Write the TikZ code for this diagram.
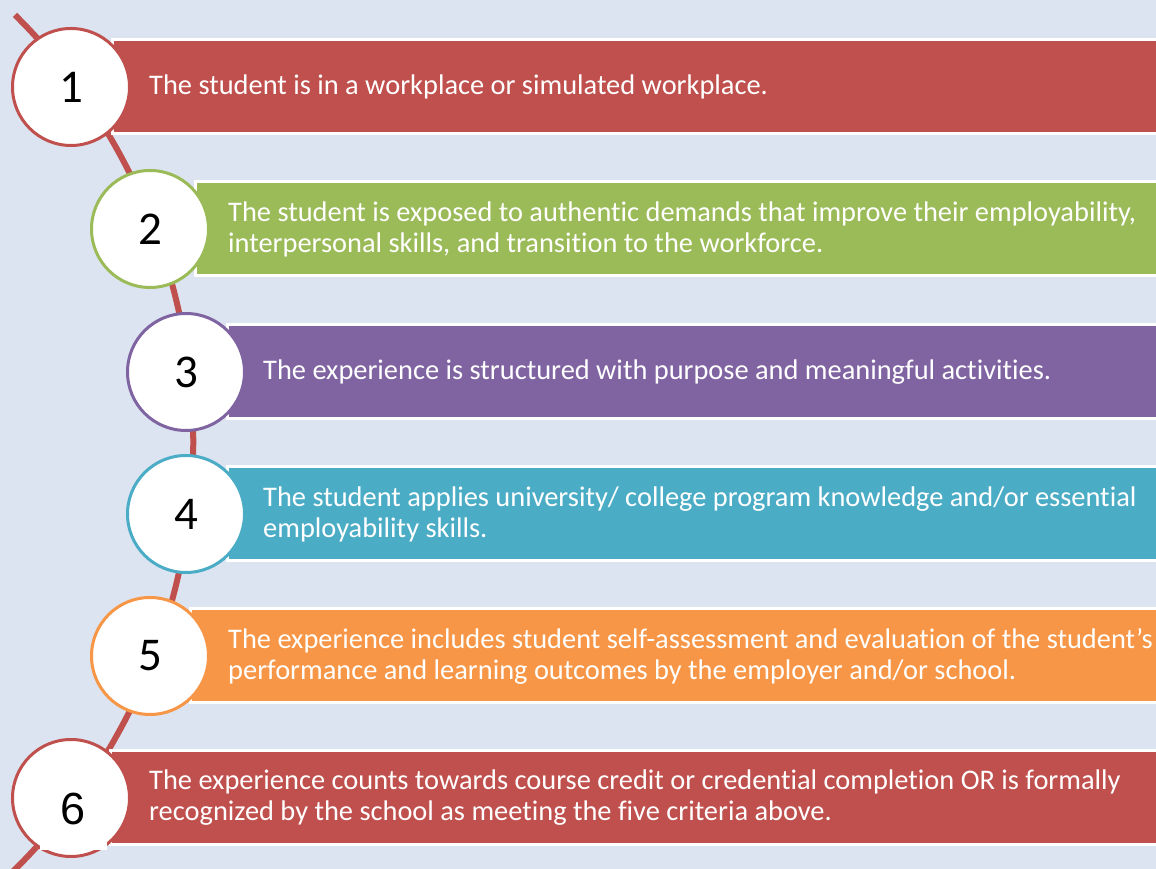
\documentclass[tikz,border=0pt]{standalone}
\usepackage{fontspec}
\setmainfont{Carlito}[Ligatures=NoCommon]
\newfontfamily\arialfont{Liberation Sans}

\definecolor{bgblue}{RGB}{219,228,240}
\definecolor{cred}{RGB}{192,80,77}
\definecolor{cgreen}{RGB}{155,187,89}
\definecolor{cpurple}{RGB}{128,100,162}
\definecolor{cteal}{RGB}{75,172,198}
\definecolor{corange}{RGB}{247,150,70}

\begin{document}
\begin{tikzpicture}[x=1pt,y=1pt,
  band/.style={draw=white,line width=3pt},
  disc/.style={circle,draw=#1,fill=white,line width=3pt,minimum size=117pt,inner sep=0pt,font=\fontsize{47}{47}\selectfont},
  bandtext/.style={anchor=west,text=white,align=left,inner sep=0pt,font=\fontsize{28.4}{31}\selectfont}]
\useasboundingbox (0,0) rectangle (1156,869);
\path [fill=bgblue] (0,0) rectangle (1156,869);
%\draw[help lines,step=50] (0,0) grid (1156,869);
% red track behind the discs
\coordinate (top) at (15,854);
\draw[cred,line width=6pt] (top) arc[start angle=45.3,end angle=-47,radius=601];
% coloured bands
\draw[band,fill=cred] (112,829) rectangle (1170,735);
\draw[band,fill=cgreen] (195,687) rectangle (1170,593);
\draw[band,fill=cpurple] (227,544) rectangle (1170,450);
\draw[band,fill=cteal] (227,402) rectangle (1170,308);
\draw[band,fill=corange] (190,260) rectangle (1170,166);
\draw[band,fill=cred] (110,118) rectangle (1170,24);
% numbered discs
\node[disc=cred] (c1) at (71,782) {1};
\node[disc=cgreen] (c2) at (150,640) {2};
\node[disc=cpurple] (c3) at (186,497) {3};
\node[disc=cteal] (c4) at (186,355) {4};
\node[disc=corange] (c5) at (150,213) {5};
\node[disc=cred] (c6) at (71,71) {};
\node[fill=white,inner xsep=0pt,inner ysep=25pt,minimum width=67pt,font=\arialfont\fontsize{45}{45}\selectfont] (n6) at (73.5,60) {6};
% texts
\node[bandtext] (t1) at (149,782) {The student is in a workplace or simulated workplace.};
\node[bandtext] (t2) at (228,640) {The student is exposed to authentic demands that improve their employability,\\interpersonal skills, and transition to the workforce.};
\node[bandtext] (t3) at (263,497) {The experience is structured with purpose and meaningful activities.};
\node[bandtext] (t4) at (263,355) {The student applies university/ college program knowledge and/or essential\\employability skills.};
\node[bandtext] (t5) at (228,213) {The experience includes student self-assessment and evaluation of the student’s\\performance and learning outcomes by the employer and/or school.};
\node[bandtext] (t6) at (149,71) {The experience counts towards course credit or credential completion OR is formally\\recognized by the school as meeting the five criteria above.};
\end{tikzpicture}
\end{document}
